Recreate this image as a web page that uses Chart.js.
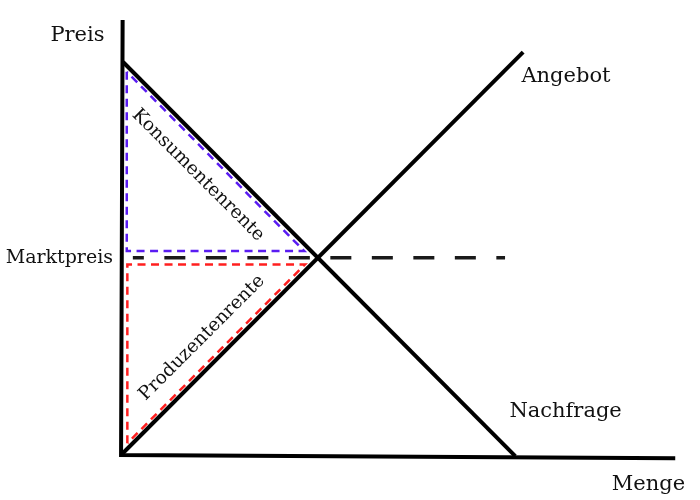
<!DOCTYPE html>
<html>
<head>
<meta charset="utf-8">
<title>Angebot und Nachfrage</title>
<script src="https://cdn.jsdelivr.net/npm/chart.js@4.4.0/dist/chart.umd.min.js"></script>
<style>
    body { margin: 0; background: #fff; }
    canvas { display: block; }
</style>
</head>
<body>
<canvas id="marketChart" width="700" height="500"></canvas>
<script>
// Menge (x) und Preis (y) in Modell-Einheiten
const axisQ = [0.04, 0, 14.1];
const axisP = [11.07, 0, -0.08];

const demandQ = [0.05, 10.03];
const demandP = [10.0, -0.03];

const supplyQ = [0, 10.23];
const supplyP = [0, 10.25];

const marketPriceQ = [0.3, 9.77];
const marketPriceP = [5.02, 5.02];

// Konsumentenrente (Dreieck)
const consumerQ = [0.145, 0.145, 4.66, 0.145];
const consumerP = [9.75, 5.19, 5.19, 9.75];

// Produzentenrente (Dreieck)
const producerQ = [0.16, 0.16, 4.68, 0.16];
const producerP = [0.3, 4.85, 4.85, 0.3];

// Beschriftungen
const labelTexts = ['Preis', 'Marktpreis', 'Angebot', 'Nachfrage', 'Menge'];
const labelQ = [-1.11, -1.57, 11.32, 11.31, 13.42];
const labelP = [10.53, 4.88, 9.5, 0.97, -0.89];
const labelSizes = [21, 19, 21, 21, 21];

const areaTexts = ['Konsumentenrente', 'Produzentenrente'];
const areaQ = [1.96, 2.06];
const areaP = [7.12, 2.98];
const areaAngles = [45, -45];

function toPoints(xs, ys) {
    return xs.map((x, i) => ({ x: x, y: ys[i] }));
}

function line(data, color, width, dash, dashOffset) {
    return {
        data: data,
        showLine: true,
        borderColor: color,
        borderWidth: width,
        borderDash: dash || [],
        borderDashOffset: dashOffset || 0,
        pointRadius: 0,
        fill: false,
        tension: 0,
        clip: false,
        borderCapStyle: 'butt',
        borderJoinStyle: 'miter'
    };
}

// Texte über die Skalen platzieren
const labelPlugin = {
    id: 'labels',
    afterDatasetsDraw(chart) {
        const ctx = chart.ctx;
        const xs = chart.scales.x;
        const ys = chart.scales.y;
        ctx.save();
        ctx.fillStyle = '#111';
        ctx.textAlign = 'center';
        ctx.textBaseline = 'alphabetic';
        labelTexts.forEach((t, i) => {
            ctx.font = labelSizes[i] + 'px "DejaVu Serif"';
            ctx.fillText(t, xs.getPixelForValue(labelQ[i]), ys.getPixelForValue(labelP[i]));
        });
        ctx.textBaseline = 'middle';
        ctx.font = '18.5px "DejaVu Serif"';
        areaTexts.forEach((t, i) => {
            ctx.save();
            ctx.translate(xs.getPixelForValue(areaQ[i]), ys.getPixelForValue(areaP[i]));
            ctx.rotate(areaAngles[i] * Math.PI / 180);
            ctx.fillText(t, 0, 0);
            ctx.restore();
        });
        ctx.restore();
    }
};

new Chart(document.getElementById('marketChart'), {
    type: 'scatter',
    data: {
        datasets: [
            line(toPoints(consumerQ, consumerP), '#5a1cf2', 2.5, [8, 5.5]),
            line(toPoints(producerQ, producerP), '#ff1f1f', 2.5, [8, 5.5]),
            line(toPoints(marketPriceQ, marketPriceP), '#1a1a1a', 3.5, [21, 20.5], 10),
            line(toPoints(demandQ, demandP), '#000', 4),
            line(toPoints(supplyQ, supplyP), '#000', 4),
            line(toPoints(axisQ, axisP), '#000', 4)
        ]
    },
    options: {
        responsive: false,
        animation: false,
        layout: { padding: 0 },
        plugins: {
            legend: { display: false },
            tooltip: { enabled: false }
        },
        scales: {
            x: { type: 'linear', display: false, min: -3.08, max: 14.73 },
            y: { type: 'linear', display: false, min: -1.145, max: 11.578 }
        }
    },
    plugins: [labelPlugin]
});
</script>
</body>
</html>
